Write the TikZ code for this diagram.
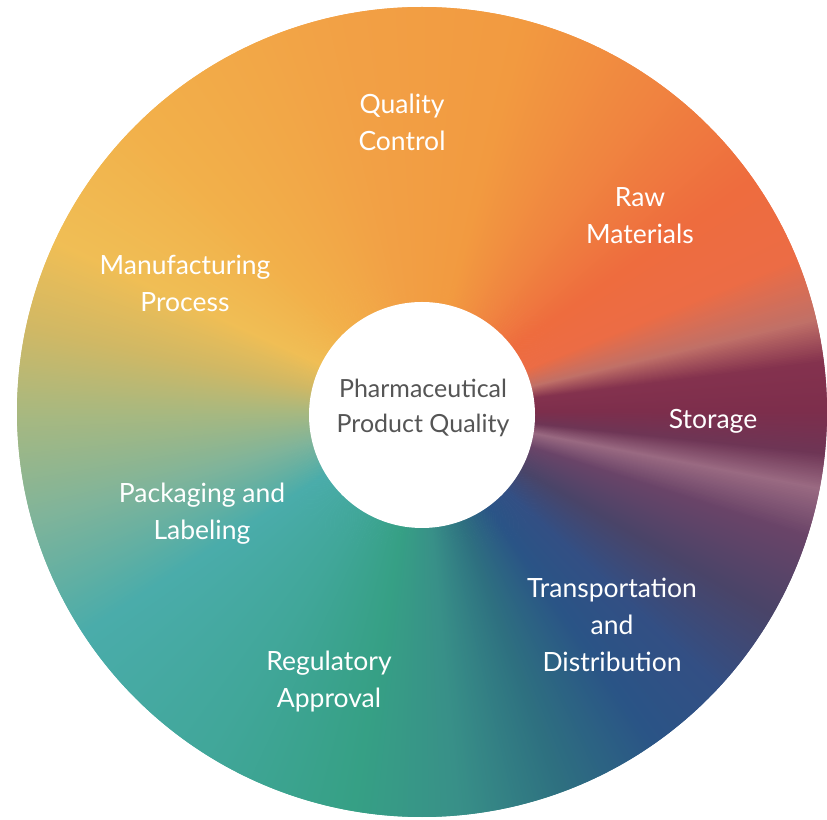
\documentclass[tikz,border=0pt]{standalone}
\usepackage{fontspec}
\setmainfont{Lato}
\usetikzlibrary{calc}
\definecolor{s0}{HTML}{A8B880}
\definecolor{s1}{HTML}{80B49A}
\definecolor{s2}{HTML}{4AACAA}
\definecolor{s3}{HTML}{40A698}
\definecolor{s4}{HTML}{36A085}
\definecolor{s5}{HTML}{389088}
\definecolor{s6}{HTML}{2E7080}
\definecolor{s7}{HTML}{2A5486}
\definecolor{s8}{HTML}{334F84}
\definecolor{s9}{HTML}{4A4468}
\definecolor{s10}{HTML}{6A4468}
\definecolor{s11}{HTML}{9A6A82}
\definecolor{s12}{HTML}{6E3555}
\definecolor{s13}{HTML}{7D2E4C}
\definecolor{s14}{HTML}{84324E}
\definecolor{s15}{HTML}{C07068}
\definecolor{s16}{HTML}{EC6C45}
\definecolor{s17}{HTML}{EE6C3E}
\definecolor{s18}{HTML}{F08540}
\definecolor{s19}{HTML}{F29A40}
\definecolor{s20}{HTML}{F2A045}
\definecolor{s21}{HTML}{F2B04A}
\definecolor{s22}{HTML}{F0BE55}
\definecolor{s23}{HTML}{D0B865}
\definecolor{labelgray}{HTML}{555555}
\begin{document}
\begin{tikzpicture}[x=1pt,y=1pt,
  seglabel/.style={text=white, align=center, font=\fontsize{26.5}{37}\selectfont},
  corelabel/.style={text=labelgray, align=center, font=\fontsize{25}{35}\selectfont}]
\useasboundingbox (0,0) rectangle (827,819);
\coordinate (O) at (422,407);
\foreach \a/\b/\ca/\cb in {-180/-165/s0/s1, -165/-147/s1/s2, -147/-120/s2/s3,
  -120/-100/s3/s4, -100/-85/s4/s5, -85/-70/s5/s6, -70/-55/s6/s7, -55/-43/s7/s8,
  -43/-30/s8/s9, -30/-18/s9/s10, -18/-11/s10/s11, -11/-6/s11/s12, -6/0/s12/s13,
  0/7/s13/s14, 7/13/s14/s15, 13/22/s15/s16, 22/35/s16/s17, 35/55/s17/s18,
  55/75/s18/s19, 75/100/s19/s20, 100/134/s20/s21, 134/155/s21/s22,
  155/168/s22/s23, 168/180/s23/s0} {
  \pgfmathtruncatemacro\n{4*(\b-\a)-1}
  \foreach \i in {0,...,\n} {
    \pgfmathsetmacro\t{\a+\i/4}
    \pgfmathsetmacro\e{\t+0.5}
    \pgfmathtruncatemacro\p{100*\i/(4*(\b-\a))}
    \fill[\cb!\p!\ca, shift={(O)}] (0,0) -- (\t:405) arc[start angle=\t, end angle=\e, radius=405] -- cycle;
  }
}
\node[circle, fill=white, minimum size=226pt, inner sep=0pt] (core) at (422,404) {};
\node[corelabel] (center) at (423,411) {Pharmaceutical\\Product Quality};
\node[seglabel] (qc) at (402,697) {Quality\\Control};
\node[seglabel] (raw) at (640,603) {Raw\\Materials};
\node[seglabel] (mfg) at (185,536) {Manufacturing\\Process};
\node[seglabel] (sto) at (713,398) {Storage};
\node[seglabel] (pack) at (202,305) {Packaging and\\Labeling};
\node[seglabel] (trans) at (612,194) {Transportation\\and\\Distribution};
\node[seglabel] (reg) at (329,137) {Regulatory\\Approval};
\end{tikzpicture}
\end{document}
